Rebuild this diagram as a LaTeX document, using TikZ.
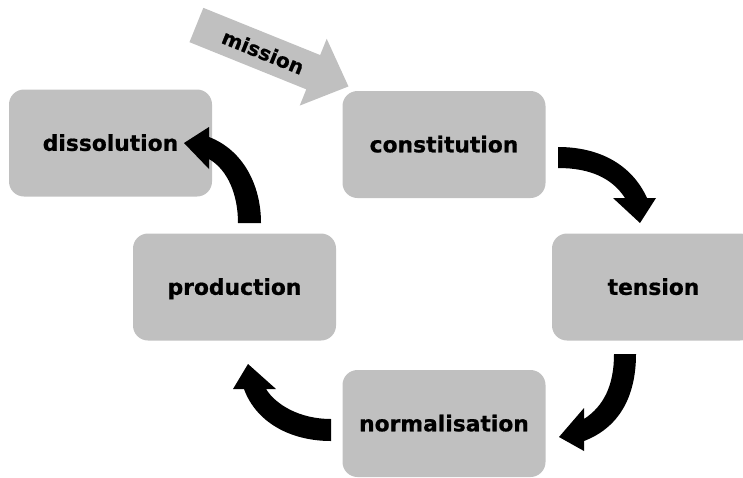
\documentclass[tikz,border=0pt]{standalone}
\usepackage{fontspec}
\setmainfont{DejaVu Sans}[BoldFeatures={FakeBold=0.8}]
\definecolor{boxgray}{RGB}{192,192,192}
\begin{document}
\begin{tikzpicture}[x=1pt,y=-1pt,
  stage/.style={rectangle, rounded corners=15pt, fill=boxgray, draw=none,
    minimum width=203pt, minimum height=107pt, inner sep=0pt,
    text height=19.6pt, text depth=4pt,
    font=\fontsize{21.8}{26}\selectfont\bfseries},
  blockarrow/.style={fill=black, draw=none},
  missionarrow/.style={fill=boxgray, draw=none}]
\useasboundingbox (0,0) rectangle (743,477);
\clip (0,0) rectangle (743,477);
% stages
\node[stage] (dis) at (110.5,143) {dissolution};
\node[stage] (con) at (444,144.5) {constitution};
\node[stage] (pro) at (234.5,287) {production};
\node[stage] (ten) at (653.5,287) {tension};
\node[stage] (nor) at (444,423.5) {normalisation};
% mission arrow
\begin{scope}[shift={(196.4,25)}, rotate=-22]
  \fill[missionarrow] (0,-18.5) -- (126,-18.5) -- (126,-36) -- (164,0)
     -- (126,36) -- (126,18.5) -- (0,18.5) -- cycle;
  \node[rotate=-22, inner sep=0pt, font=\fontsize{20}{24}\selectfont\bfseries] (mis) at (72,0) {mission};
\end{scope}
% curved block arrows
\fill[blockarrow] (558,147) .. controls (600,147) and (632,165) .. (647,198)
  -- (656,198) -- (640,223) -- (613,198) -- (625,198)
  .. controls (612,178) and (590,168) .. (558,168) -- cycle;
\fill[blockarrow] (614,354) -- (636,354) .. controls (636,398) and (618,428) .. (584,441)
  -- (584,451) -- (559,437) -- (584,408) -- (584,419)
  .. controls (604,406) and (614,385) .. (614,354) -- cycle;
\fill[blockarrow] (331,441) .. controls (290,441) and (256,422) .. (244,389)
  -- (233,389) -- (248,364) -- (276,389) -- (266,389)
  .. controls (276,405) and (300,419) .. (331,419) -- cycle;
\fill[blockarrow] (238,223) -- (261,223) .. controls (261,185) and (243,150) .. (209,137)
  -- (209,127) -- (184,143) -- (209,169) -- (209,159)
  .. controls (228,170) and (238,195) .. (238,223) -- cycle;
\end{tikzpicture}
\end{document}
